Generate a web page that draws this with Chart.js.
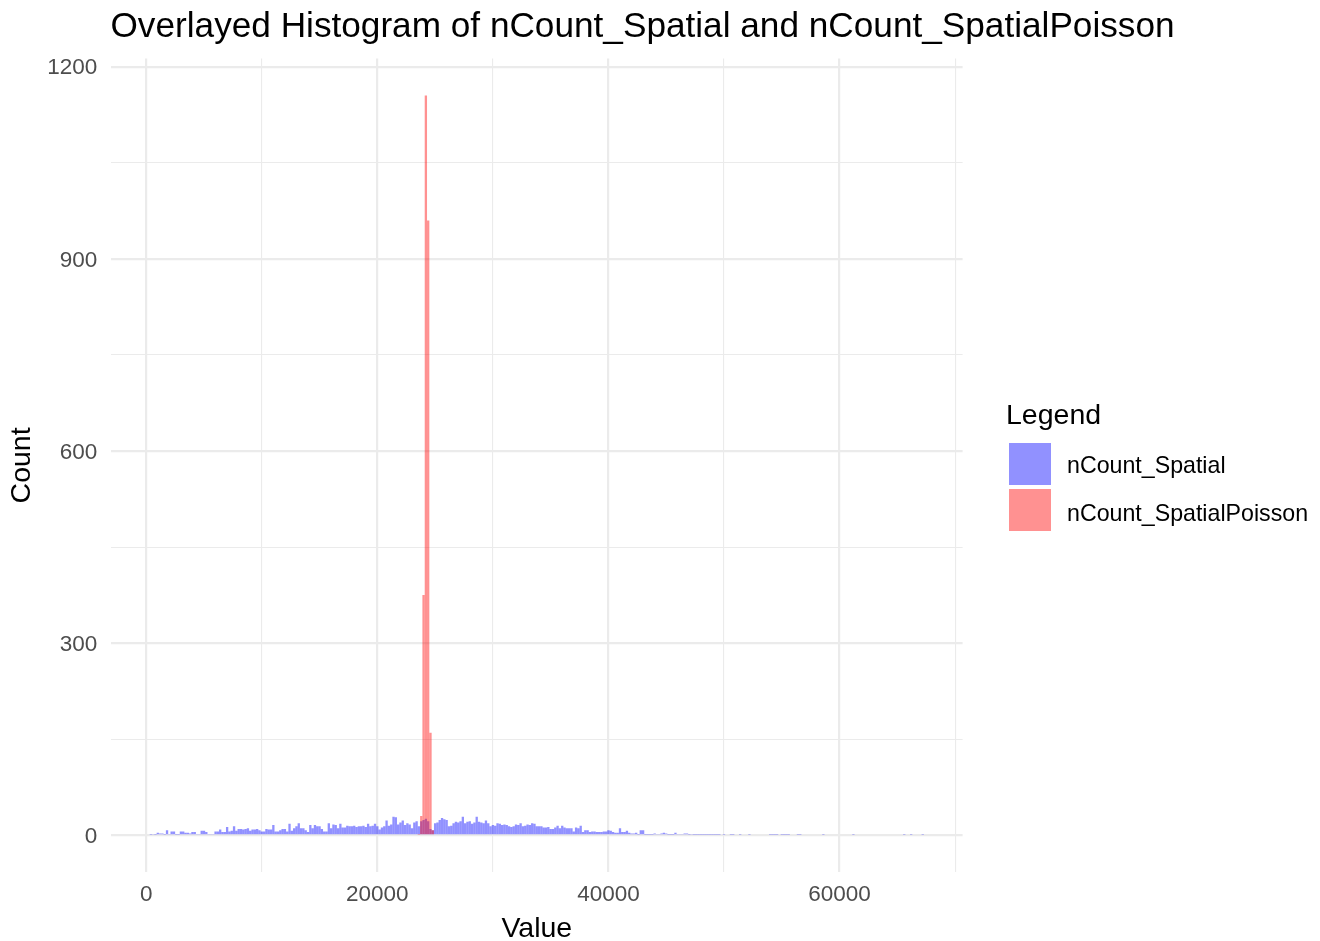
<!DOCTYPE html>
<html>
<head>
<meta charset="utf-8">
<title>Overlayed Histogram</title>
<script src="https://cdn.jsdelivr.net/npm/chart.js@4.4.0/dist/chart.umd.min.js"></script>
<style>
  html, body { margin: 0; padding: 0; background: #fff; }
  canvas { display: block; }
</style>
</head>
<body>
<canvas id="hist" width="1320" height="941"></canvas>
<script>
// histogram bins: 200 wide, first one starts at 300
var binStart = 300;
var binWidth = 200;

// nCount_Spatial counts per bin
var spatialCounts = [
  1, 2, 1, 4, 3, 3, 1, 8, 2, 6,
  6, 1, 1, 6, 6, 4, 4, 3, 5, 5,
  2, 2, 7, 7, 5, 2, 2, 2, 6, 6,
  9, 5, 5, 13, 6, 7, 14, 7, 10, 10,
  9, 10, 11, 7, 9, 9, 10, 8, 6, 6,
  10, 9, 9, 16, 6, 6, 8, 10, 10, 6,
  18, 7, 11, 14, 19, 11, 11, 8, 5, 16,
  11, 16, 14, 14, 10, 6, 6, 19, 11, 17,
  16, 11, 18, 12, 12, 15, 14, 14, 15, 13,
  14, 14, 15, 13, 18, 14, 15, 18, 14, 9,
  12, 14, 23, 15, 17, 29, 28, 17, 20, 23,
  16, 19, 17, 11, 20, 22, 14, 22, 24, 26,
  22, 10, 8, 19, 20, 24, 27, 25, 24, 14,
  15, 19, 21, 20, 22, 29, 19, 21, 22, 18,
  20, 29, 21, 20, 19, 23, 19, 14, 16, 15,
  19, 18, 16, 17, 16, 14, 13, 14, 17, 16,
  19, 14, 15, 17, 16, 19, 18, 14, 14, 14,
  12, 12, 13, 10, 10, 12, 15, 11, 15, 12,
  11, 11, 11, 6, 12, 11, 15, 5, 8, 8,
  5, 6, 6, 5, 5, 5, 6, 6, 8, 7,
  5, 4, 4, 11, 5, 5, 7, 4, 3, 3,
  4, 1, 8, 8, 1, 1, 1, 1, 3, 2,
  2, 3, 4, 3, 1, 1, 1, 4, 2, 2,
  2, 3, 3, 1, 2, 1, 1, 1, 1, 1,
  1, 1, 1, 1, 1, 1, 1, 0, 1, 0,
  0, 1, 1, 0, 0, 1, 0, 0, 0, 1,
  0, 0, 0, 0, 0, 0, 0, 0, 1, 1,
  1, 1, 0, 1, 1, 1, 1, 0, 0, 0,
  1, 1, 0, 0, 0, 0, 0, 0, 0, 0,
  0, 1, 0, 0, 0, 0, 0, 0, 0, 0,
  0, 0, 0, 0, 1, 0, 0, 0, 0, 0,
  0, 0, 0, 0, 0, 0, 0, 0, 0, 0,
  0, 0, 0, 0, 0, 0, 1, 0, 0, 1,
  0, 0, 0, 0, 1
];

// nCount_SpatialPoisson: only a few bins around 24000 are non-empty
var poissonFirstBin = 116;
var poissonCounts = [1, 30, 375, 1155, 960, 160, 8];

// gridlines (major + minor) and the labelled ones
var xGrid = [0, 10000, 20000, 30000, 40000, 50000, 60000, 70000];
var xLabels = [0, 20000, 40000, 60000];
var yLabels = [0, 300, 600, 900, 1200];

var blueFill = 'rgba(0, 0, 255, 0.43)';
var redFill = 'rgba(255, 0, 0, 0.43)';
var fontFamily = '"Liberation Sans", Arial, Helvetica, sans-serif';

function binCenter(k) {
    return binStart + binWidth * (k + 0.5);
}

var spatialPoints = [];
for (var i = 0; i < spatialCounts.length; i++) {
    spatialPoints.push({x: binCenter(i), y: spatialCounts[i]});
}
var poissonPoints = [];
for (var j = 0; j < poissonCounts.length; j++) {
    poissonPoints.push({x: binCenter(poissonFirstBin + j), y: poissonCounts[j]});
}

// title + ggplot style legend, drawn after the chart
var ggExtras = {
    id: 'ggExtras',
    afterDraw: function (chart) {
        var ctx = chart.ctx;
        ctx.save();
        ctx.fillStyle = '#000';
        ctx.textAlign = 'left';
        ctx.textBaseline = 'alphabetic';
        ctx.font = '35.2px ' + fontFamily;
        ctx.fillText('Overlayed Histogram of nCount_Spatial and nCount_SpatialPoisson', 110.5, 37);

        ctx.font = '28.5px ' + fontFamily;
        ctx.fillText('Legend', 1006, 424);

        ctx.fillStyle = blueFill;
        ctx.fillRect(1009, 443, 42, 42);
        ctx.fillStyle = redFill;
        ctx.fillRect(1009, 489, 42, 42);

        ctx.fillStyle = '#000';
        ctx.font = '23.2px ' + fontFamily;
        ctx.fillText('nCount_Spatial', 1067, 473);
        ctx.fillText('nCount_SpatialPoisson', 1067, 520.5);
        ctx.restore();
    }
};

var config = {
    type: 'bar',
    data: {
        datasets: [{
            label: 'nCount_Spatial',
            data: spatialPoints,
            backgroundColor: blueFill,
            borderWidth: 0,
            inflateAmount: 0,
            barPercentage: 1,
            categoryPercentage: 1,
            grouped: false,
            order: 2
        }, {
            label: 'nCount_SpatialPoisson',
            data: poissonPoints,
            backgroundColor: redFill,
            borderWidth: 0,
            inflateAmount: 0,
            barPercentage: 1,
            categoryPercentage: 1,
            grouped: false,
            order: 1
        }]
    },
    options: {
        responsive: false,
        animation: false,
        layout: {
            padding: {top: 58.5, right: 357.4, left: 0, bottom: 0}
        },
        plugins: {
            legend: {display: false},
            title: {display: false},
            tooltip: {enabled: false}
        },
        scales: {
            x: {
                type: 'linear',
                min: -3050,
                max: 70650,
                offset: false,
                border: {display: false},
                grid: {
                    color: '#EBEBEB',
                    offset: false,
                    drawTicks: false,
                    lineWidth: function (c) {
                        return (c.tick && xLabels.indexOf(c.tick.value) >= 0) ? 2.2 : 1.1;
                    }
                },
                ticks: {
                    autoSkip: false,
                    maxRotation: 0,
                    padding: 9,
                    color: '#4D4D4D',
                    font: {family: fontFamily, size: 22.5},
                    callback: function (v) {
                        return xLabels.indexOf(v) >= 0 ? String(v) : '';
                    }
                },
                afterBuildTicks: function (s) {
                    s.ticks = xGrid.map(function (v) { return {value: v}; });
                },
                title: {
                    display: true,
                    text: 'Value',
                    color: '#000',
                    padding: {top: 0, bottom: -2},
                    font: {family: fontFamily, size: 28.5, lineHeight: 1}
                },
                afterFit: function (s) { s.height = 68.7; }
            },
            y: {
                type: 'linear',
                min: -57.75,
                max: 1212.75,
                border: {display: false},
                grid: {
                    color: '#EBEBEB',
                    drawTicks: false,
                    lineWidth: function (c) {
                        return (c.tick && yLabels.indexOf(c.tick.value) >= 0) ? 2.2 : 1.1;
                    }
                },
                ticks: {
                    stepSize: 150,
                    includeBounds: false,
                    autoSkip: false,
                    padding: 13.7,
                    labelOffset: 1.5,
                    color: '#4D4D4D',
                    font: {family: fontFamily, size: 22.5},
                    callback: function (v) {
                        return yLabels.indexOf(v) >= 0 ? String(v) : '';
                    }
                },
                title: {
                    display: true,
                    text: 'Count',
                    color: '#000',
                    padding: {top: 5, bottom: 0},
                    font: {family: fontFamily, size: 28.5, lineHeight: 1.2}
                },
                afterFit: function (s) { s.width = 111; }
            }
        }
    },
    plugins: [ggExtras]
};

var canvas = document.getElementById('hist');
window.myHist = new Chart(canvas, config);
</script>
</body>
</html>
